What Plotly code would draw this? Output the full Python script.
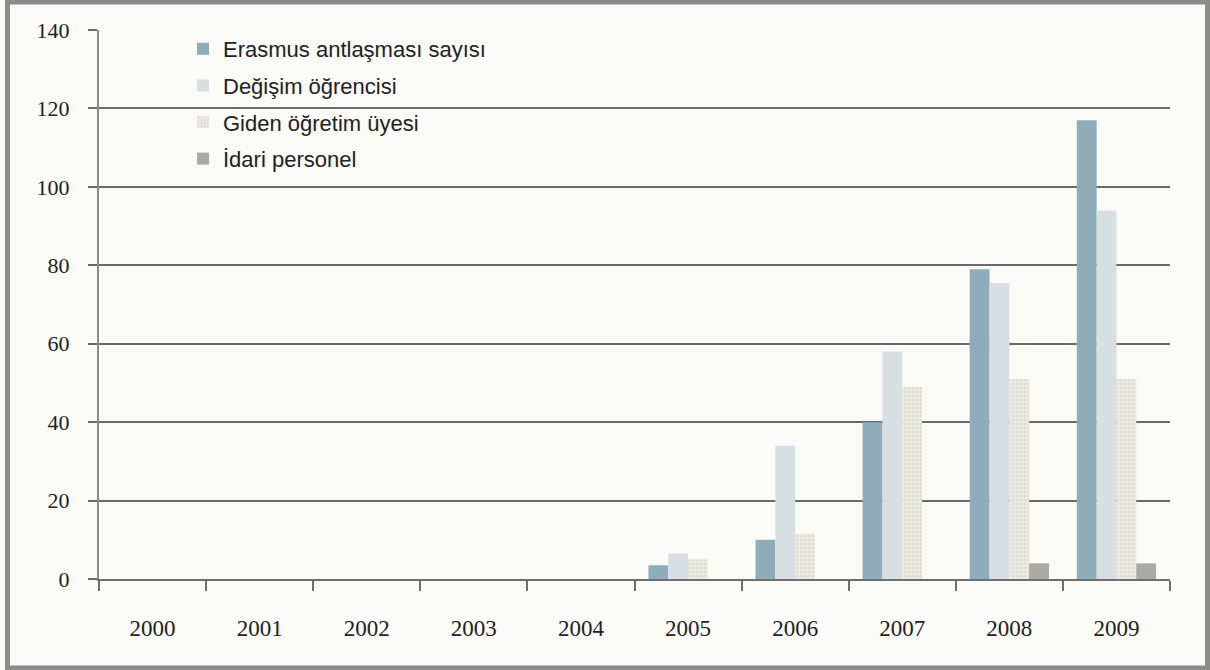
import plotly.graph_objects as go

years = ["2000", "2001", "2002", "2003", "2004", "2005", "2006", "2007", "2008", "2009"]
erasmus = [0, 0, 0, 0, 0, 3.5, 10, 40, 79, 117]
degisim = [0, 0, 0, 0, 0, 6.5, 34, 58, 75.5, 94]
giden = [0, 0, 0, 0, 0, 5, 11.5, 49, 51, 51]
idari = [0, 0, 0, 0, 0, 0, 0, 0, 4, 4]
yticks = [0, 20, 40, 60, 80, 100, 120, 140]

W, H = 1210, 670
L, R, T, B = 99, 40, 30, 91
pw, ph = W - L - R, H - T - B

def px(x):
    return (x - L) / pw

def py(y):
    return (H - B - y) / ph

SERIF = "Liberation Serif, Times New Roman, serif"
SANS = "Liberation Sans, Arial, sans-serif"

fig = go.Figure()
fig.add_bar(x=years, y=erasmus, name="Erasmus antlaşması sayısı", legendgroup="a",
            marker=dict(color="#8eacba", line=dict(width=0)))
fig.add_bar(x=years, y=degisim, name="Değişim öğrencisi", legendgroup="b",
            marker=dict(color="#d8dfe2", line=dict(width=0)))
fig.add_bar(x=years, y=giden, name="Giden öğretim üyesi", legendgroup="c",
            marker=dict(color="#e9e8df", line=dict(width=0),
                        pattern=dict(shape=".", fgcolor="#cfcfc4", bgcolor="#ecebe3",
                                     size=4, solidity=0.4)))
fig.add_bar(x=years, y=idari, name="İdari personel", legendgroup="d",
            marker=dict(color="#a9a9a6", line=dict(width=0)))

fig.update_layout(
    width=W, height=H,
    margin=dict(l=L, r=R, t=T, b=B, pad=0),
    paper_bgcolor="#fafaf6",
    plot_bgcolor="#fafaf6",
    barmode="group",
    bargap=0.26,
    bargroupgap=0,
    showlegend=True,
    legend=dict(x=px(183), y=py(28), xanchor="left", yanchor="top",
                bgcolor="rgba(0,0,0,0)", traceorder="grouped",
                font=dict(family=SANS, size=22, color="#222"),
                itemwidth=30, tracegroupgap=5, itemsizing="constant"),
    font=dict(family=SERIF, size=22, color="#222"),
)
fig.update_xaxes(type="category", showline=True, linecolor="#6f6f6f", linewidth=2,
                 ticks="outside", tickson="boundaries", ticklen=10, tickwidth=2,
                 tickcolor="#6f6f6f", showgrid=False, ticklabelstandoff=27,
                 tickfont=dict(family=SERIF, size=23, color="#222"))
fig.update_yaxes(range=[0, 140], tickvals=yticks, showgrid=True, gridcolor="#6a6a6a",
                 gridwidth=2, showline=True, linecolor="#8a8a8a", linewidth=2,
                 ticks="outside", ticklen=9, tickwidth=2, tickcolor="#6a6a6a",
                 zeroline=False, ticklabelstandoff=14,
                 tickfont=dict(family=SERIF, size=22, color="#222"))

fig.add_shape(type="rect", xref="paper", yref="paper",
              x0=px(7.5), x1=px(1207.5), y0=py(668), y1=py(2),
              line=dict(color="#8c8c8c", width=5), fillcolor="rgba(0,0,0,0)", layer="above")

fig.write_html("out.html", config={"displayModeBar": False},
               post_script="document.body.style.margin='0';document.body.style.overflow='hidden';")
